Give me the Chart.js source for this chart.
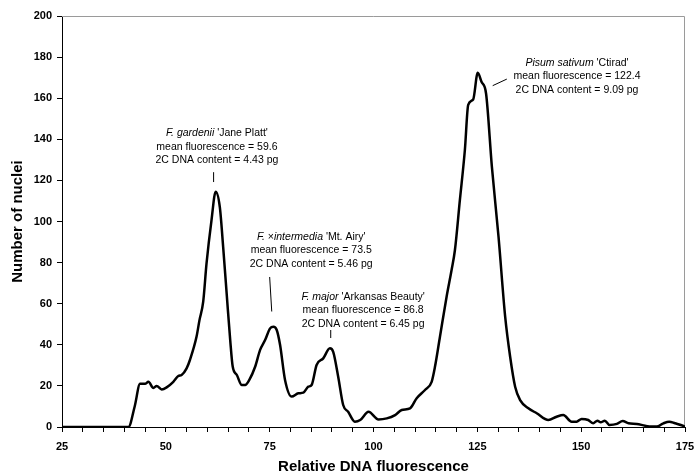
<!DOCTYPE html>
<html>
<head>
<meta charset="utf-8">
<script src="https://cdn.jsdelivr.net/npm/chart.js@4.4.1/dist/chart.umd.min.js"></script>
<style>
  html, body { margin: 0; padding: 0; background: #fff; }
  #wrap { width: 694px; height: 476px; position: relative; }
</style>
</head>
<body>
<div id="wrap"><canvas id="c" width="694" height="476"></canvas></div>
<script>
// Relative DNA fluorescence (x) and number of nuclei (y)
const fluorescence = [25, 30, 35, 40, 41, 42.5, 43.8, 45, 45.8, 47, 47.8, 49, 50.2, 51.8, 53, 53.8, 55, 55.8, 57.4, 58.1, 59, 59.8, 61, 62, 63, 63.8, 64.7, 65.5, 66.1, 67.1, 68.3, 69.1, 70.1, 71.5, 72.7, 73.9, 75.1, 75.9, 76.7, 77.5, 78.7, 80.3, 81.9, 83.1, 84.3, 85.1, 86.3, 87.9, 89.5, 90.3, 91.5, 92.7, 93.9, 95.5, 96.8, 98.8, 101.2, 103.2, 105.2, 106.8, 108.8, 110.4, 112.4, 114, 114.8, 116, 117.6, 118.8, 119.6, 120.8, 122, 122.8, 124, 125.1, 126, 127.1, 128.5, 130.1, 131.7, 132.9, 134.1, 135.3, 137.3, 139.3, 142.1, 144.1, 145.7, 147.7, 148.9, 150.1, 151.7, 152.9, 153.9, 154.7, 155.7, 156.8, 158.6, 160, 161.4, 163.4, 165.4, 167, 168.2, 169.8, 171.2, 172.6, 174.6, 175];
const nuclei = [0, 0, 0, 0, 0, 10, 21, 21, 22, 19, 20, 18.3, 19.3, 22, 24.8, 25.3, 28.5, 32.6, 44, 52, 61, 79.6, 100.7, 114.5, 107, 87.7, 63.4, 42.3, 29.4, 25.3, 20.4, 20.4, 22.9, 29.3, 37.5, 42.3, 48, 48.8, 47.2, 40, 22.9, 14.8, 16.4, 16.7, 19.6, 20.4, 30.2, 33.4, 38.3, 36.6, 24.5, 10.7, 7.4, 2.6, 3.4, 7.4, 3.7, 4.2, 5.8, 8.3, 9.1, 14, 18, 22, 29.3, 43.9, 63.4, 76.4, 86, 110.5, 134.8, 156.7, 159.4, 172.4, 168, 162.3, 126.7, 92.6, 53.7, 34.2, 19.6, 13.1, 9.1, 6.7, 3.4, 5, 5.8, 2.6, 2.6, 3.9, 3.4, 1.8, 3.1, 2.3, 3.1, 1, 1.5, 2.9, 1.8, 1.5, 0.6, 0.2, 0.2, 1.8, 2.6, 1.8, 0.5, 0];

const xTickLabels = [25, 50, 75, 100, 125, 150, 175];
const yTickLabels = [0, 20, 40, 60, 80, 100, 120, 140, 160, 180, 200];

// Peak annotations: species (italic parts marked), mean fluorescence, 2C DNA content
const annSpecies = [
  [["F. gardenii", true], [" 'Jane Platt'", false]],
  [["F. ", true], ["\u00d7", false], ["intermedia", true], [" 'Mt. Airy'", false]],
  [["F. major", true], [" 'Arkansas Beauty'", false]],
  [["Pisum sativum", true], [" 'Ctirad'", false]]
];
const annMean = ["59.6", "73.5", "86.8", "122.4"];
const annDNA = ["4.43", "5.46", "6.45", "9.09"];
// anchor of text block (data coords: x centre, y of first line) and leader lines (data coords)
const annTextX = [62.3, 85, 97.5, 149];
const annTextY = [143, 92.5, 63.3, 177.1];
const annLeaderFrom = [[61.5, 124], [75, 73], [89.7, 47.2], [128.7, 166.1]];
const annLeaderTo = [[61.5, 119.2], [75.5, 56.2], [89.7, 43.3], [132.1, 169.3]];

const points = fluorescence.map((x, i) => ({ x: x, y: nuclei[i] }));

const annotationPlugin = {
  id: 'peakLabels',
  afterDatasetsDraw(chart) {
    const ctx = chart.ctx;
    const xs = chart.scales.x, ys = chart.scales.y;
    ctx.save();
    ctx.fillStyle = '#000';
    ctx.strokeStyle = '#000';
    ctx.lineWidth = 1;
    ctx.textBaseline = 'middle';
    const normal = '10.5px "Liberation Sans", Arial, sans-serif';
    const italic = 'italic 10.5px "Liberation Sans", Arial, sans-serif';
    const lineGap = 13.5;
    for (let i = 0; i < annSpecies.length; i++) {
      const cx = xs.getPixelForValue(annTextX[i]);
      const y0 = ys.getPixelForValue(annTextY[i]);
      let total = 0;
      annSpecies[i].forEach(([t, it]) => { ctx.font = it ? italic : normal; total += ctx.measureText(t).width; });
      let x = cx - total / 2;
      ctx.textAlign = 'left';
      annSpecies[i].forEach(([t, it]) => { ctx.font = it ? italic : normal; ctx.fillText(t, x, y0); x += ctx.measureText(t).width; });
      ctx.font = normal;
      ctx.textAlign = 'center';
      ctx.fillText('mean fluorescence = ' + annMean[i], cx, y0 + lineGap);
      ctx.fillText('2C DNA content = ' + annDNA[i] + ' pg', cx, y0 + 2 * lineGap);
      ctx.beginPath();
      ctx.moveTo(xs.getPixelForValue(annLeaderFrom[i][0]), ys.getPixelForValue(annLeaderFrom[i][1]));
      ctx.lineTo(xs.getPixelForValue(annLeaderTo[i][0]), ys.getPixelForValue(annLeaderTo[i][1]));
      ctx.stroke();
    }
    ctx.restore();
  }
};

const framePlugin = {
  id: 'frame',
  beforeDatasetsDraw(chart) {
    const { ctx, chartArea: a } = chart;
    ctx.save();
    ctx.strokeStyle = '#9a9a9a';
    ctx.lineWidth = 1;
    ctx.beginPath();
    ctx.moveTo(a.left, a.top + 0.5);
    ctx.lineTo(a.right - 0.5, a.top + 0.5);
    ctx.lineTo(a.right - 0.5, a.bottom);
    ctx.stroke();
    ctx.restore();
  }
};

new Chart(document.getElementById('c'), {
  type: 'line',
  data: {
    datasets: [{
      data: points,
      borderColor: '#000',
      borderWidth: 2.5,
      pointRadius: 0,
      fill: false,
      cubicInterpolationMode: 'monotone'
    }]
  },
  options: {
    responsive: false,
    animation: false,
    layout: { padding: { top: 16, right: 9, bottom: 0, left: 0 } },
    plugins: { legend: { display: false }, tooltip: { enabled: false } },
    scales: {
      x: {
        type: 'linear',
        min: 25, max: 175,
        afterFit(s) { s.height = 49; s.paddingLeft = 0; s.paddingRight = 0; },
        afterBuildTicks(s) {
          const t = [];
          for (let v = 25; v <= 175; v += 5) t.push({ value: v });
          s.ticks = t;
        },
        ticks: {
          autoSkip: false,
          maxRotation: 0,
          padding: 8,
          color: '#000',
          font: { family: '"Liberation Sans", Arial, sans-serif', size: 11, weight: 'bold' },
          callback: (v) => xTickLabels.includes(v) ? String(v) : ''
        },
        grid: { drawOnChartArea: false, drawTicks: true, tickLength: 5, tickColor: '#000' },
        border: { color: '#000', width: 1 },
        title: {
          display: true,
          text: 'Relative DNA fluorescence',
          color: '#000',
          font: { family: '"Liberation Sans", Arial, sans-serif', size: 15, weight: 'bold' },
          padding: { top: 0, bottom: 0 }
        }
      },
      y: {
        min: 0, max: 200,
        afterFit(s) { s.width = 62; s.paddingTop = 0; s.paddingBottom = 0; },
        afterBuildTicks(s) { s.ticks = yTickLabels.map(v => ({ value: v })); },
        ticks: {
          padding: 5,
          color: '#000',
          font: { family: '"Liberation Sans", Arial, sans-serif', size: 11, weight: 'bold' }
        },
        grid: { drawOnChartArea: false, drawTicks: true, tickLength: 5, tickColor: '#000' },
        border: { color: '#000', width: 1 },
        title: {
          display: true,
          text: 'Number of nuclei',
          color: '#000',
          font: { family: '"Liberation Sans", Arial, sans-serif', size: 15, weight: 'bold' },
          padding: { top: 9, bottom: 0 }
        }
      }
    }
  },
  plugins: [framePlugin, annotationPlugin]
});
</script>
</body>
</html>
